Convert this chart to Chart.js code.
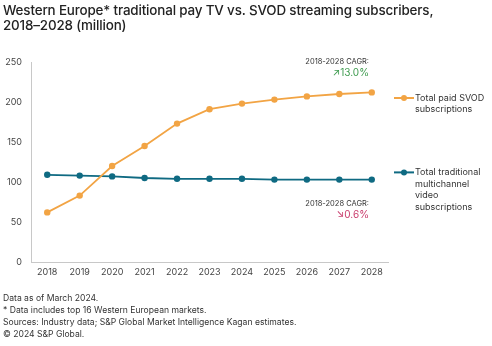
<!DOCTYPE html>
<html>
<head>
<meta charset="utf-8">
<script src="https://cdn.jsdelivr.net/npm/chart.js@4"></script>
<style>
  body { margin: 0; background: #fff; font-family: Inter, "Liberation Sans", sans-serif; }
  #wrap { position: relative; width: 492px; height: 346px; overflow: hidden; }
  #title { position: absolute; left: 3px; top: 3px; font-size: 13.4px; font-weight: 500; line-height: 15px; color: #222; letter-spacing: -0.15px; }
  #notes { position: absolute; left: 3px; top: 292px; font-size: 8.6px; line-height: 12px; color: #333; }
  canvas { position: absolute; left: 0; top: 0; }
</style>
</head>
<body>
<div id="wrap">
  <canvas id="chart" width="492" height="346"></canvas>
  <div id="title">Western Europe* traditional pay TV vs. SVOD streaming subscribers,<br>2018–2028 (million)</div>
  <div id="notes">
    Data as of March 2024.<br>
    * Data includes top 16 Western European markets.<br>
    Sources: Industry data; S&amp;P Global Market Intelligence Kagan estimates.<br>
    © 2024 S&amp;P Global.
  </div>
</div>
<script>
// values
const years = ['2018', '2019', '2020', '2021', '2022', '2023', '2024', '2025', '2026', '2027', '2028'];
const svodSubs = [62, 83, 120, 145, 173, 191, 198, 203, 207, 210, 212];
const payTvSubs = [109, 108, 107, 105, 104, 104, 104, 103, 103, 103, 103];
const svodLabel = ['Total paid SVOD', 'subscriptions'];
const payTvLabel = ['Total traditional', 'multichannel', 'video', 'subscriptions'];
const svodCagr = '13.0%';
const payTvCagr = '0.6%';

const ORANGE = '#F2A444';
const TEAL = '#0F6A82';
const FONT = 'Inter, "Liberation Sans", sans-serif';

// draws the side legend and the CAGR call-outs
const sideText = {
    id: 'sideText',
    afterDraw(chart) {
        const { ctx, chartArea, scales } = chart;
        const x0 = chartArea.right + 6;
        const drawEntry = (color, lines, value) => {
            const y = scales.y.getPixelForValue(value);
            ctx.save();
            ctx.strokeStyle = color;
            ctx.lineWidth = 2;
            ctx.beginPath();
            ctx.moveTo(x0, y);
            ctx.lineTo(x0 + 20, y);
            ctx.stroke();
            ctx.fillStyle = color;
            ctx.beginPath();
            ctx.arc(x0 + 10, y, 3, 0, Math.PI * 2);
            ctx.fill();
            ctx.fillStyle = '#333';
            ctx.font = '9px ' + FONT;
            ctx.textBaseline = 'middle';
            lines.forEach((l, i) => ctx.fillText(l, x0 + 21, y + i * 11.5));
            ctx.restore();
        };
        drawEntry(ORANGE, svodLabel, 205);
        drawEntry(TEAL, payTvLabel, 112);

        const xr = chartArea.right - 19;
        const drawCagr = (y, arrow, val, color) => {
            ctx.save();
            ctx.textAlign = 'right';
            ctx.textBaseline = 'middle';
            ctx.fillStyle = '#333';
            ctx.font = '7.5px ' + FONT;
            ctx.fillText('2018-2028 CAGR:', xr, y);
            ctx.fillStyle = color;
            ctx.font = '10px ' + FONT;
            ctx.fillText(arrow + val, xr, y + 11);
            ctx.restore();
        };
        drawCagr(scales.y.getPixelForValue(250), '↗', svodCagr, '#3E9B4F');
        drawCagr(scales.y.getPixelForValue(72.5), '↘', payTvCagr, '#C93A6B');
    }
};

new Chart(document.getElementById('chart').getContext('2d'), {
    type: 'line',
    data: {
        labels: years,
        datasets: [{
            label: 'Total paid SVOD subscriptions',
            data: svodSubs,
            borderColor: ORANGE,
            backgroundColor: ORANGE,
            borderWidth: 1.8,
            pointRadius: 3.2,
            pointBorderWidth: 0,
            tension: 0
        }, {
            label: 'Total traditional multichannel video subscriptions',
            data: payTvSubs,
            borderColor: TEAL,
            backgroundColor: TEAL,
            borderWidth: 1.8,
            pointRadius: 3.2,
            pointBorderWidth: 0,
            tension: 0
        }]
    },
    options: {
        responsive: false,
        animation: false,
        layout: { padding: { left: 0, right: 104, top: 62, bottom: 0 } },
        plugins: {
            legend: { display: false },
            title: { display: false },
            tooltip: { enabled: false }
        },
        scales: {
            x: {
                offset: true,
                grid: { display: false, drawTicks: false },
                border: { display: true, color: '#c8c8c8', width: 1 },
                ticks: { color: '#444', font: { family: FONT, size: 9 }, padding: 5, maxRotation: 0 },
                afterFit(scale) { scale.height = 84; }
            },
            y: {
                min: 0,
                max: 250,
                grid: { display: false, drawTicks: false },
                border: { display: true, color: '#c8c8c8', width: 1 },
                ticks: { stepSize: 50, color: '#444', font: { family: FONT, size: 9 }, padding: 9 },
                afterFit(scale) { scale.width = 31; }
            }
        }
    },
    plugins: [sideText]
});
</script>
</body>
</html>
